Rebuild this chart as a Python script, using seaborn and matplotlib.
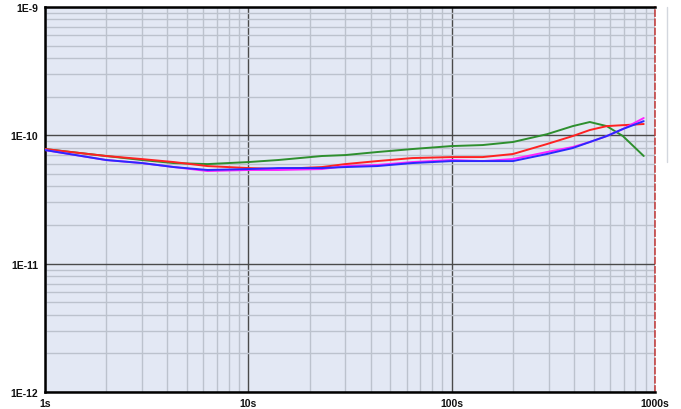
import numpy as np
import pandas as pd
import matplotlib
matplotlib.use("Agg")
import matplotlib.pyplot as plt
import seaborn as sns
from matplotlib.ticker import FixedLocator, LogLocator, NullFormatter
from matplotlib.lines import Line2D

# Data (tau in seconds, deviation values)
tau = [1, 2, 3, 4.3, 6.3, 10, 14, 23, 30, 43, 64, 100, 142, 200, 294, 394, 478, 579, 695, 880]
green = [7.82e-11, 6.90e-11, 6.42e-11, 6.08e-11, 5.97e-11, 6.19e-11, 6.42e-11, 6.90e-11, 7.02e-11, 7.41e-11,
         7.82e-11, 8.25e-11, 8.40e-11, 8.87e-11, 1.02e-10, 1.18e-10, 1.27e-10, 1.18e-10, 9.87e-11, 6.90e-11]
red = [7.82e-11, 6.90e-11, 6.53e-11, 6.19e-11, 5.76e-11, 5.56e-11, 5.46e-11, 5.66e-11, 5.97e-11, 6.30e-11,
       6.65e-11, 6.77e-11, 6.77e-11, 7.15e-11, 8.55e-11, 9.87e-11, 1.10e-10, 1.18e-10, 1.20e-10, 1.225e-10]
magenta = [7.68e-11, 6.42e-11, 6.08e-11, 5.66e-11, 5.27e-11, 5.37e-11, 5.37e-11, 5.46e-11, 5.76e-11, 5.87e-11,
           6.19e-11, 6.42e-11, 6.30e-11, 6.53e-11, 7.41e-11, 8.11e-11, 8.87e-11, 9.87e-11, 1.12e-10, 1.364e-10]
blue = [7.68e-11, 6.42e-11, 6.08e-11, 5.66e-11, 5.37e-11, 5.46e-11, 5.56e-11, 5.56e-11, 5.66e-11, 5.76e-11,
        6.08e-11, 6.30e-11, 6.30e-11, 6.30e-11, 7.15e-11, 7.96e-11, 8.87e-11, 9.87e-11, 1.12e-10, 1.29e-10]

x_ticks = [1, 10, 100, 1000]
x_labels = ["1s", "10s", "100s", "1000s"]
y_ticks = [1e-12, 1e-11, 1e-10, 1e-9]
y_labels = ["1E-12", "1E-11", "1E-10", "1E-9"]

series = {"green": green, "red": red, "magenta": magenta, "blue": blue}
colors = {"green": "#2e8f2e", "red": "#ff2222", "magenta": "#ff22ff", "blue": "#2a2aff"}

df = pd.concat([pd.DataFrame({"tau": tau, "value": v, "series": k}) for k, v in series.items()],
               ignore_index=True)

sns.set_theme(style="white")
plt.rcParams["font.family"] = ["Liberation Sans", "DejaVu Sans"]

fig = plt.figure(figsize=(6.81, 4.10), dpi=100)
ax = fig.add_axes([45 / 681, 17 / 410, 610 / 681, 385 / 410])
ax.set_facecolor("#e3e8f4")

sns.lineplot(data=df, x="tau", y="value", hue="series", palette=colors,
             hue_order=["green", "red", "magenta", "blue"], linewidth=1.4,
             legend=False, ax=ax, zorder=3)
for ln in ax.get_lines():
    ln.set_solid_joinstyle("round")

ax.set_xscale("log")
ax.set_yscale("log")
ax.set_xlim(1, 1000)
ax.set_ylim(1e-12, 1e-9)

ax.xaxis.set_major_locator(FixedLocator(x_ticks))
ax.yaxis.set_major_locator(FixedLocator(y_ticks))
ax.set_xticklabels(x_labels)
ax.set_yticklabels(y_labels)
ax.xaxis.set_minor_locator(LogLocator(base=10, subs=np.arange(2, 10)))
ax.yaxis.set_minor_locator(LogLocator(base=10, subs=np.arange(2, 10)))
ax.xaxis.set_minor_formatter(NullFormatter())
ax.yaxis.set_minor_formatter(NullFormatter())

ax.grid(which="minor", color="#bcc2cd", linewidth=1.0, zorder=1)
ax.grid(which="major", color="#4a4a4a", linewidth=1.0, zorder=2)
ax.set_axisbelow(True)

ax.tick_params(which="both", length=0)
ax.tick_params(axis="x", pad=4, labelsize=7.5)
ax.tick_params(axis="y", pad=5, labelsize=7.5)
for lbl in ax.get_xticklabels() + ax.get_yticklabels():
    lbl.set_fontweight("bold")
    lbl.set_color("#111111")

ax.set_xlabel("")
ax.set_ylabel("")

for side in ["left", "top", "bottom"]:
    ax.spines[side].set_color("black")
    ax.spines[side].set_linewidth(1.8)
ax.spines["right"].set_color("#c03535")
ax.spines["right"].set_linewidth(1.1)
ax.spines["right"].set_linestyle((0, (4, 2)))

fig.add_artist(Line2D([667 / 681, 667 / 681], [1 - 8 / 410, 1 - 163 / 410],
                      color="#d3d7de", linewidth=1.0, transform=fig.transFigure))

fig.savefig("out.png", dpi=100)
